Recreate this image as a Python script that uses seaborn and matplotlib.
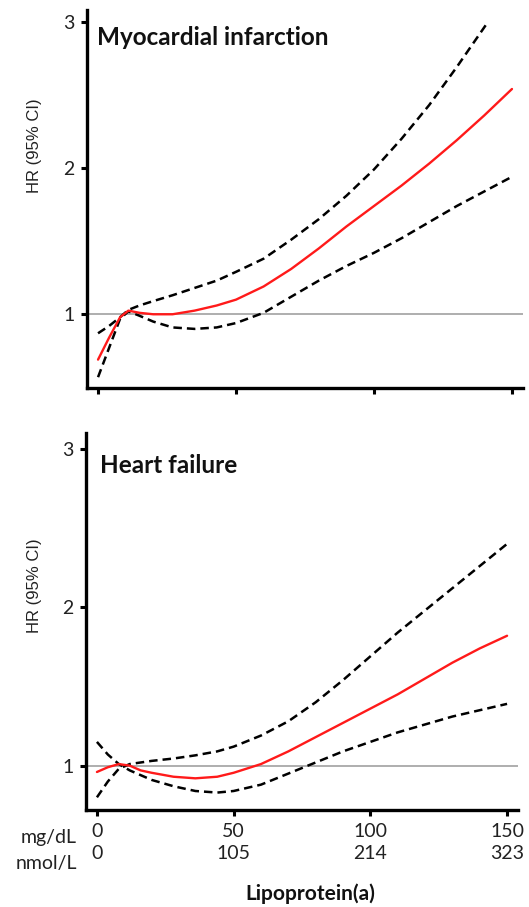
import matplotlib
matplotlib.use("Agg")
import matplotlib.pyplot as plt
import seaborn as sns

# Lipoprotein(a) grid (mg/dL) and spline estimates: hazard ratios with 95% CI
mi_x = [0, 4, 8, 11, 15, 20, 27, 35, 43, 50, 60, 70, 80, 90, 100, 110, 120, 130, 140, 150]
mi_hr = [0.69, 0.84, 0.98, 1.025, 1.01, 1.0, 1.0, 1.025, 1.06, 1.10, 1.19, 1.31, 1.45, 1.60,
         1.74, 1.88, 2.03, 2.19, 2.36, 2.54]
mi_lower = [0.57, 0.77, 0.97, 1.02, 0.99, 0.95, 0.91, 0.90, 0.91, 0.94, 1.01, 1.12, 1.23, 1.33,
            1.42, 1.52, 1.63, 1.74, 1.84, 1.94]
mi_upper_x = [0, 4, 8, 11, 15, 20, 27, 35, 43, 50, 60, 70, 80, 90, 100, 110, 120, 130, 141]
mi_upper = [0.87, 0.92, 0.98, 1.03, 1.06, 1.09, 1.13, 1.18, 1.23, 1.29, 1.38, 1.51, 1.65, 1.81,
            1.99, 2.20, 2.43, 2.69, 2.99]

hf_x = [0, 4, 8, 12, 16, 20, 28, 36, 44, 50, 60, 70, 80, 90, 100, 110, 120, 130, 140, 150]
hf_hr = [0.96, 0.99, 1.01, 1.0, 0.97, 0.955, 0.93, 0.92, 0.93, 0.955, 1.01, 1.09, 1.18, 1.27,
         1.36, 1.45, 1.55, 1.65, 1.74, 1.82]
hf_lower = [1.15, 1.07, 1.01, 0.97, 0.94, 0.91, 0.87, 0.84, 0.83, 0.84, 0.88, 0.95, 1.02, 1.09,
            1.15, 1.21, 1.26, 1.31, 1.35, 1.39]
hf_upper = [0.80, 0.90, 0.98, 1.01, 1.02, 1.03, 1.045, 1.065, 1.09, 1.12, 1.19, 1.28, 1.40, 1.54,
            1.69, 1.84, 1.98, 2.12, 2.26, 2.40]

x_ticks = [0, 50, 100, 150]
mg_labels = ["0", "50", "100", "150"]
nmol_labels = ["0", "105", "214", "323"]
y_ticks = [1, 2, 3]
panel_titles = ["Myocardial infarction", "Heart failure"]

sns.set_style("white")
plt.rcParams["font.family"] = ["Lato", "DejaVu Sans"]

W, H = 529, 907
fig = plt.figure(figsize=(W / 100, H / 100), dpi=100)


def frame(l, t, r, b):
    return [l / W, 1 - b / H, (r - l) / W, (b - t) / H]


ax1 = fig.add_axes(frame(87, 10, 523, 388))
ax2 = fig.add_axes(frame(86, 433, 518, 810))

red = "#ff1a1a"
dash = (0, (3.4, 2.0))

panels = [
    (ax1, mi_x, mi_hr, mi_x, mi_lower, mi_upper_x, mi_upper, (0.496, 3.08)),
    (ax2, hf_x, hf_hr, hf_x, hf_lower, hf_x, hf_upper, (0.72, 3.10)),
]

for ax, x, hr, xl, lo, xu, up, ylim in panels:
    ax.axhline(1, color="#a8a8a8", lw=1.3, zorder=1)
    sns.lineplot(x=xl, y=lo, ax=ax, color="black", lw=1.8, linestyle=dash, zorder=2)
    sns.lineplot(x=xu, y=up, ax=ax, color="black", lw=1.8, linestyle=dash, zorder=2)
    sns.lineplot(x=x, y=hr, ax=ax, color=red, lw=1.7, zorder=3)
    ax.set_xlim(-4.0, 154.0)
    ax.set_ylim(*ylim)
    ax.set_yticks(y_ticks)
    ax.set_yticklabels([str(v) for v in y_ticks])
    ax.set_xticks(x_ticks)
    for s in ("top", "right"):
        ax.spines[s].set_visible(False)
    for s in ("left", "bottom"):
        ax.spines[s].set_linewidth(2.4)
        ax.spines[s].set_color("black")
    ax.tick_params(axis="both", which="major", direction="out", length=4, width=2.2,
                   color="black", labelsize=14, labelcolor="#222222", pad=5,
                   bottom=True, left=True, top=False, right=False)
    ax.set_xlabel("")
    ax.set_ylabel("HR (95% CI)", family=["Liberation Sans", "DejaVu Sans"], fontsize=12,
                  color="#222222")

ax1.text(0.023, 0.907, panel_titles[0], transform=ax1.transAxes, fontsize=17.5,
         fontweight="bold", ha="left", va="baseline", color="#111111")
ax2.text(0.032, 0.894, panel_titles[1], transform=ax2.transAxes, fontsize=17.5,
         fontweight="bold", ha="left", va="baseline", color="#111111")

ax1.yaxis.set_label_coords(-0.103, 0.64)
ax2.yaxis.set_label_coords(-0.102, 0.594)

ax1.set_xticklabels([])
ax2.set_xticklabels([f"{a}\n{b}" for a, b in zip(mg_labels, nmol_labels)])
for lab in ax2.get_xticklabels():
    lab.set_linespacing(1.35)
ax2.tick_params(axis="x", pad=5.5)

fig.text(77 / W, 1 - 837 / H, "mg/dL", ha="right", va="center", fontsize=14, color="#222222")
fig.text(77 / W, 1 - 863 / H, "nmol/L", ha="right", va="center", fontsize=14, color="#222222")
fig.text(310 / W, 1 - 894 / H, "Lipoprotein(a)", ha="center", va="center", fontsize=15,
         fontweight="bold", color="#111111")

fig.savefig("out.png", dpi=100)
